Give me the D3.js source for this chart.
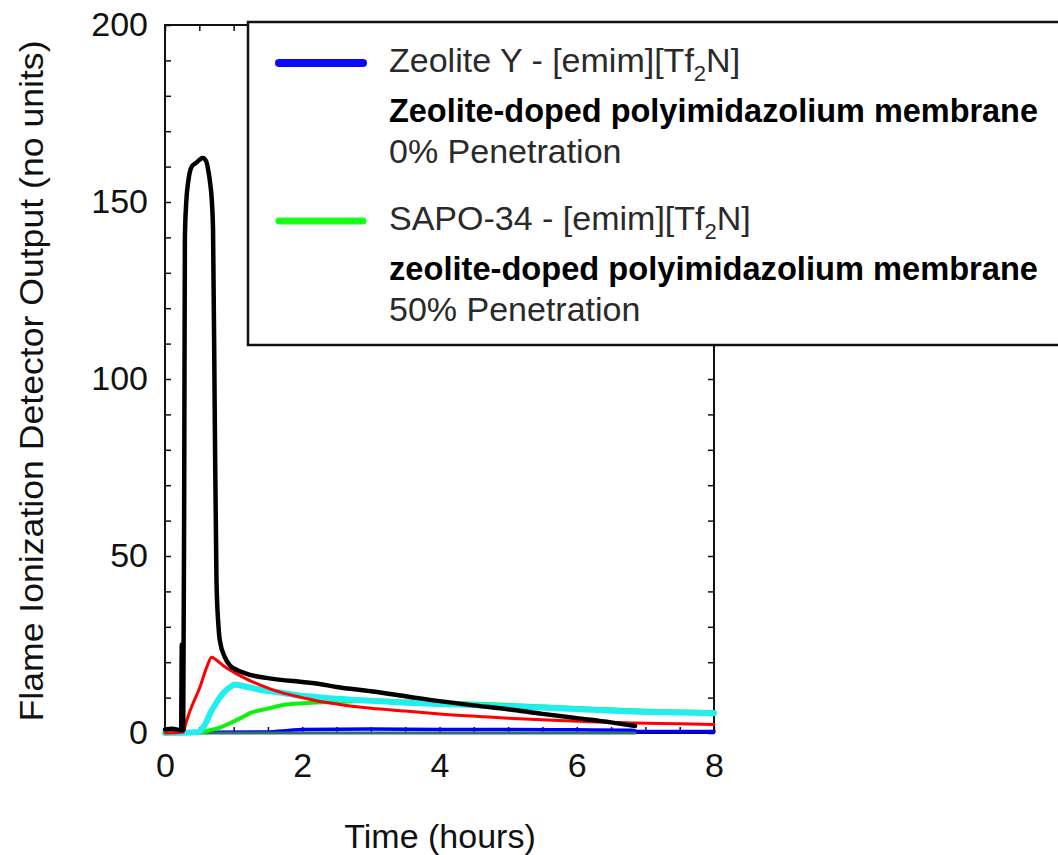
<!DOCTYPE html>
<html>
<head>
<meta charset="utf-8">
<script src="https://cdn.jsdelivr.net/npm/d3@7"></script>
<style>
  body { margin: 0; background: #fff; }
  text { font-family: "Liberation Sans", Arial, sans-serif; }
</style>
</head>
<body>
<div id="chart"></div>
<script>
// time in hours, detector output (no units)
const blackSeries = [[0,1],[0.1,1.2],[0.2,0.9],[0.235,0.8],[0.245,25],[0.255,0.8],[0.265,1],[0.28,70],[0.29,140],
  [0.31,150],[0.34,156],[0.39,160],[0.45,161],[0.55,162.4],[0.6,161.5],[0.63,159],[0.66,155],[0.68,151],[0.70,142],
  [0.725,90],[0.75,43],[0.78,30],[0.80,26],[0.87,21.5],[0.95,19],[1.05,17.8],[1.24,16.4],[1.5,15.5],[2.0,14.4],
  [2.2,14],[2.5,13],[3.0,11.8],[3.5,10.4],[4.0,9.0],[4.5,7.8],[5.0,6.7],[5.5,5.4],[6.0,4.2],[6.5,3.0],[6.85,2.0]];
const redSeries = [[0,0],[0.27,0.3],[0.3,2.5],[0.36,6],[0.51,13],[0.61,18.7],[0.68,21.4],[0.75,20.6],[0.85,19],
  [1.0,17.2],[1.09,16.2],[1.38,13.6],[1.7,11.4],[2.0,10],[2.2,9.1],[2.5,8.2],[2.7,7.6],[3.0,7],[3.5,6.2],[4.0,5.4],
  [4.66,4.6],[5.0,4.2],[5.74,3.5],[6.3,3.1],[6.82,2.8],[7.5,2.6],[8,2.4]];
const cyanSeries = [[0,0],[0.45,0.2],[0.51,0.6],[0.6,3],[0.66,5.6],[0.75,8.6],[0.85,11.3],[0.95,13],[1.02,13.6],
  [1.2,13],[1.41,12.1],[1.72,11.3],[2.0,10.5],[2.5,9.7],[3.0,9.1],[3.57,8.5],[4.0,8.2],[4.66,7.8],[5.0,7.5],
  [5.74,7.0],[6.3,6.5],[6.82,6.1],[7.5,5.8],[8,5.6]];
const greenSeries = [[0,0],[0.55,0.2],[0.6,0.5],[0.8,1.5],[0.95,2.8],[1.1,4.2],[1.24,5.6],[1.5,6.9],[1.72,7.9],
  [2.01,8.4],[2.3,8.7],[2.7,8.9],[3.0,9.2],[3.5,8.9],[4.0,8.6],[4.66,8.2],[5.0,7.9],[5.74,7.3],[6.3,6.8],
  [6.82,6.4],[7.5,6.1],[8,5.9]];
const blueSeries = [[0,0.2],[1.5,0.3],[1.8,0.7],[2.0,1.0],[3,1.1],[4,1.0],[5,1.0],[6,0.9],[6.8,0.8],[6.9,0.4],[8,0.4]];
const tealSeries = [[0,0],[2,0],[4,0],[6,0],[6.85,0]];

const xLabels = [0, 2, 4, 6, 8];
const yLabels = [0, 50, 100, 150, 200];

const legendTitles = ["Zeolite Y - [emim][Tf", "SAPO-34 - [emim][Tf"];
const legendBold = ["Zeolite-doped polyimidazolium membrane", "zeolite-doped polyimidazolium membrane"];
const legendNotes = ["0% Penetration", "50% Penetration"];
const legendColors = ["#0a0aff", "#1aff1a"];

const width = 1058, height = 855;

const svg = d3.select("#chart")
  .append("svg")
  .attr("width", width)
  .attr("height", height);

const x = d3.scaleLinear().domain([0, 8]).range([165, 714]);
const y = d3.scaleLinear().domain([0, 200]).range([733, 25]);

const xMinor = d3.range(0, 8.001, 0.5);
const yMinor = d3.range(0, 200.001, 10);

// axes, ticks pointing inward
svg.append("g")
  .attr("transform", `translate(0,${y(0)})`)
  .call(d3.axisBottom(x).tickValues(xMinor).tickSize(-6).tickPadding(20)
    .tickFormat(d => xLabels.includes(d) ? d : ""));
svg.append("g")
  .attr("transform", `translate(${x(0)},0)`)
  .call(d3.axisLeft(y).tickValues(yMinor).tickSize(-6).tickPadding(17)
    .tickFormat(d => yLabels.includes(d) ? d : ""));
svg.append("g")
  .attr("transform", `translate(0,${y(200)})`)
  .call(d3.axisTop(x).tickValues(xMinor).tickSize(-6).tickFormat(""));
svg.append("g")
  .attr("transform", `translate(${x(8)},0)`)
  .call(d3.axisRight(y).tickValues(yMinor).tickSize(-6).tickFormat(""));

svg.selectAll(".domain").remove();
svg.selectAll(".tick line").attr("stroke", "#111").attr("stroke-width", 1.5);
svg.selectAll(".tick text").attr("font-size", 34).attr("fill", "#111")
  .style("font-family", '"Liberation Sans", Arial, sans-serif');

svg.append("rect")
  .attr("x", x(0)).attr("y", y(200))
  .attr("width", x(8) - x(0)).attr("height", y(0) - y(200))
  .attr("fill", "none").attr("stroke", "#111").attr("stroke-width", 2);

// curves
const line = d3.line()
  .x(d => x(d[0]))
  .y(d => y(d[1]))
  .curve(d3.curveMonotoneX);

const series = [
  {data: blueSeries, color: "#0000ff", w: 3.5},
  {data: tealSeries, color: "#2f6e6e", w: 3},
  {data: greenSeries, color: "#10f010", w: 4},
  {data: cyanSeries, color: "#22eeee", w: 6},
  {data: redSeries, color: "#ff0000", w: 3},
  {data: blackSeries, color: "#000000", w: 4.5}
];

svg.append("g")
  .selectAll("path.series")
  .data(series)
  .join("path")
  .attr("class", "series")
  .attr("d", d => line(d.data))
  .attr("fill", "none")
  .attr("stroke", d => d.color)
  .attr("stroke-width", d => d.w)
  .attr("stroke-linejoin", "round")
  .attr("stroke-linecap", "round");

// axis titles
svg.append("text")
  .attr("transform", "translate(43,381) rotate(-90)")
  .attr("text-anchor", "middle")
  .attr("font-size", 33)
  .attr("fill", "#111")
  .attr("textLength", 681)
  .attr("lengthAdjust", "spacingAndGlyphs")
  .text("Flame Ionization Detector Output (no units)");

svg.append("text")
  .attr("x", 440).attr("y", 848)
  .attr("text-anchor", "middle")
  .attr("font-size", 34)
  .attr("fill", "#111")
  .text("Time (hours)");

// legend box
const lg = svg.append("g");
lg.append("rect")
  .attr("x", 248).attr("y", 22)
  .attr("width", 840).attr("height", 323)
  .attr("fill", "#fff").attr("stroke", "#111").attr("stroke-width", 2.5);

const rowY = [0, 158];
legendTitles.forEach((t, i) => {
  const oy = rowY[i];
  lg.append("line")
    .attr("x1", 279).attr("x2", 363)
    .attr("y1", 63 + oy).attr("y2", 63 + oy)
    .attr("stroke", legendColors[i]).attr("stroke-width", i == 0 ? 8 : 7)
    .attr("stroke-linecap", "round");

  const t1 = lg.append("text")
    .attr("x", 389).attr("y", 72 + oy)
    .attr("font-size", 34).attr("fill", "#2a2a2a");
  t1.append("tspan").text(t);
  t1.append("tspan").attr("font-size", 22).attr("dy", 9).text("2");
  t1.append("tspan").attr("dy", -9).text("N]");

  lg.append("text")
    .attr("x", 389).attr("y", 122 + oy)
    .attr("font-size", 33).attr("font-weight", "bold").attr("fill", "#000")
    .attr("textLength", 649).attr("lengthAdjust", "spacingAndGlyphs")
    .text(legendBold[i]);

  lg.append("text")
    .attr("x", 389).attr("y", 163 + oy)
    .attr("font-size", 34).attr("fill", "#2a2a2a")
    .text(legendNotes[i]);
});
</script>
</body>
</html>
